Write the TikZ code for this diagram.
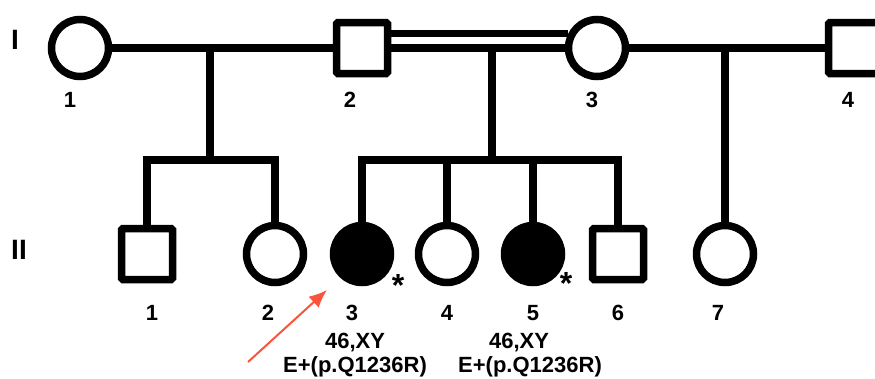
\documentclass[tikz,border=0pt]{standalone}
\usepackage{fontspec}
\setmainfont{Liberation Sans}
\usepackage{tikz}
\usetikzlibrary{shapes,arrows.meta}
\usepackage{xcolor}
\definecolor{rojo}{RGB}{250,85,60}

\begin{document}
\begin{tikzpicture}[x=1pt,y=-1pt,
    mujer/.style={circle,draw,line width=7.5pt,minimum size=57pt,inner sep=0pt},
    varon/.style={rectangle,draw,line width=7.5pt,minimum size=51pt,inner sep=0pt,rounded corners=1.5pt},
    afectada/.style={mujer,fill=black},
    num/.style={font=\fontsize{22}{25}\selectfont\bfseries,inner sep=0pt},
    gen/.style={font=\fontsize{28}{32}\selectfont\bfseries,inner sep=0pt},
    linea/.style={line width=7.5pt}]
            \useasboundingbox (0,0) rectangle (875,378);
            % generacion I
            \node[gen] (genI) at (15,40) {I};
            \node[mujer] (I1) at (80,48) {};
            \node[varon] (I2) at (362,48) {};
            \node[mujer] (I3) at (597,48) {};
            \node[varon] (I4) at (854,48) {};
            \foreach \x/\n in {70/1,350/2,592/3,848/4}
            \node[num] (nI\n) at (\x,100) {\n};
            % generacion II
            \node[gen] (genII) at (19,250) {II};
            \node[varon] (II1) at (147,254) {};
            \node[mujer] (II2) at (275,254) {};
            \node[afectada] (II3) at (362,254) {};
            \node[mujer] (II4) at (447,254) {};
            \node[afectada] (II5) at (533,254) {};
            \node[varon] (II6) at (618,254) {};
            \node[mujer] (II7) at (725,254) {};
            \foreach \x/\n in {152/1,268/2,352/3,447/4,533/5,618/6,718/7}
            \node[num] (nII\n) at (\x,313) {\n};
            % parejas
            \draw[linea] (I1) -- (I2);
            \draw[linea] (I2) -- (I3);
            \draw[linea] (I2.east |- I3.153) -- (I3.153); % consanguinidad
            \draw[linea] (I3) -- (I4);
            % hijos
            \coordinate (pA) at (210,48);
            \coordinate (hA) at (210,160);
            \draw[linea] (pA) -- (hA);
            \draw[linea] (II1.north) |- (hA) -| (II2.north);
            \coordinate (pB) at (492,48);
            \coordinate (hB) at (492,160);
            \draw[linea] (pB) -- (hB);
            \draw[linea] (II3.north) |- (hB) -| (II6.north);
            \foreach \i in {4,5}
            \draw[linea] (II\i.north) -- (II\i.north |- hB);
            \coordinate (pC) at (725,48);
            \draw[linea] (pC) -- (II7.north);
            % estudiados
            \node[num,font=\fontsize{32}{34}\selectfont\bfseries] (estII3) at (398,285) {*};
            \node[num,font=\fontsize{32}{34}\selectfont\bfseries] (estII5) at (566,283) {*};
            \node[num] (carII3) at (355,343) {46,XY};
            \node[num] (mutII3) at (355,367) {E+(p.Q1236R)};
            \node[num] (carII5) at (519,343) {46,XY};
            \node[num] (mutII5) at (530,367) {E+(p.Q1236R)};
            % probando
            \coordinate (flechaA) at (248,362);
            \coordinate (flechaB) at (327,290);
            \draw[rojo,line width=2pt,-{Latex[length=18pt,width=15pt]}] (flechaA) -- (flechaB);
            \end{tikzpicture}
\end{document}
